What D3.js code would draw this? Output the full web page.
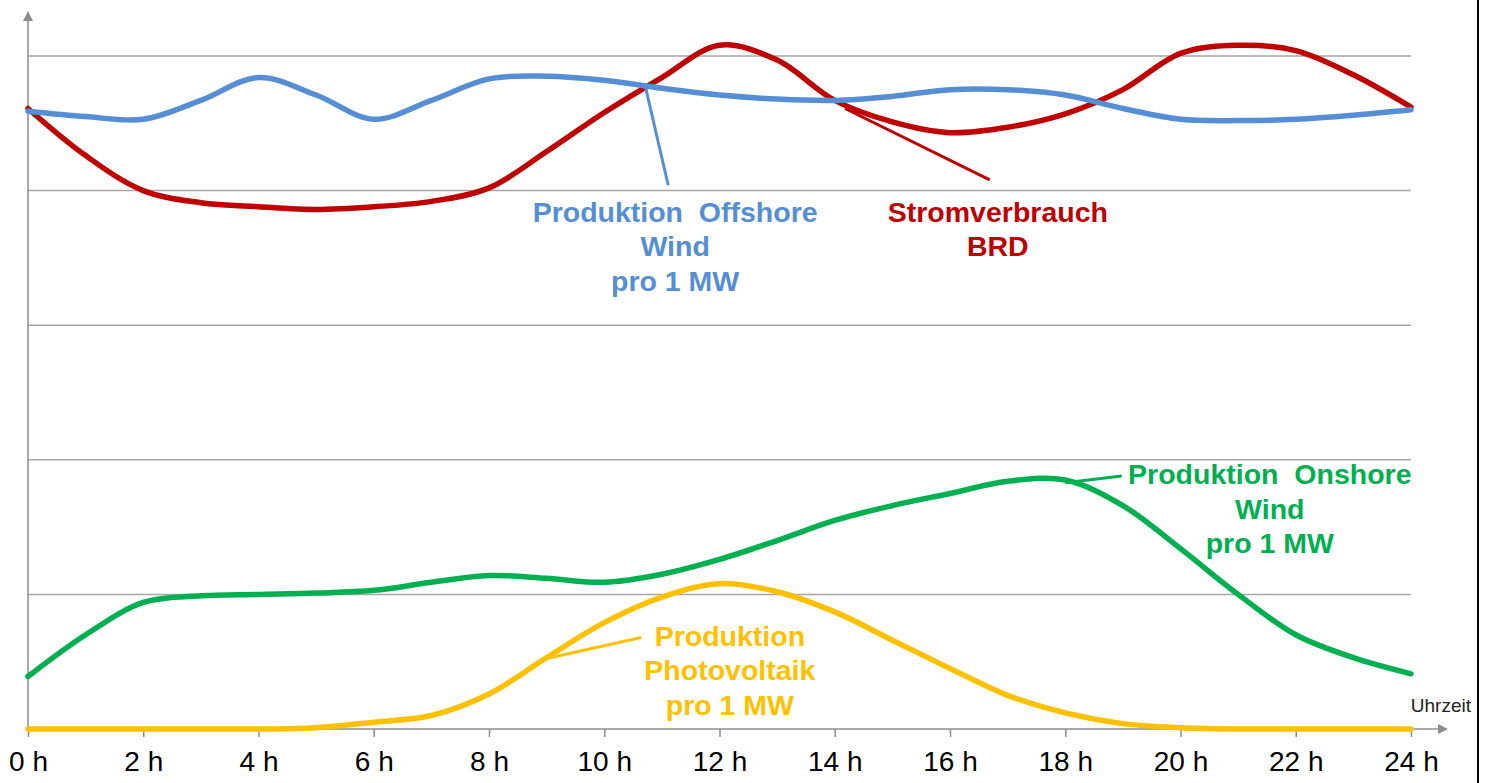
<!DOCTYPE html>
<html>
<head>
<meta charset="utf-8">
<script src="https://cdn.jsdelivr.net/npm/d3@7"></script>
<style>
  html, body { margin: 0; padding: 0; background: #fff; }
  svg { display: block; }
</style>
</head>
<body>
<svg id="chart" width="1486" height="783"></svg>
<script>
// ---- Data (values in relative units, 0..5 grid) ----
const hours = d3.range(0, 25);
const tickHours = [0, 2, 4, 6, 8, 10, 12, 14, 16, 18, 20, 22, 24];
const tickLabels = tickHours.map(h => h + " h");
const gridValues = [1, 2, 3, 4, 5];

const offshoreWind = [4.59, 4.55, 4.53, 4.67, 4.84, 4.71, 4.53, 4.67, 4.83, 4.85, 4.82, 4.76, 4.71,
                      4.68, 4.67, 4.70, 4.75, 4.75, 4.71, 4.61, 4.53, 4.52, 4.53, 4.56, 4.60];
const consumption = [4.61, 4.26, 4.00, 3.91, 3.88, 3.86, 3.88, 3.92, 4.02, 4.29, 4.58, 4.84, 5.08,
                     4.97, 4.67, 4.51, 4.43, 4.47, 4.57, 4.75, 5.02, 5.08, 5.04, 4.86, 4.62];
const onshoreWind = [0.39, 0.70, 0.94, 0.99, 1.00, 1.01, 1.03, 1.09, 1.14, 1.12, 1.09, 1.15, 1.26,
                     1.40, 1.55, 1.66, 1.75, 1.84, 1.85, 1.66, 1.34, 1.00, 0.70, 0.53, 0.41];
const photovoltaic = [0, 0, 0, 0, 0, 0.01, 0.05, 0.10, 0.26, 0.53, 0.79, 0.98, 1.08,
                      1.02, 0.87, 0.66, 0.45, 0.25, 0.12, 0.04, 0.01, 0, 0, 0, 0];

const seriesNames = ["offshore", "consumption", "onshore", "pv"];
const seriesColors = ["#558ED5", "#C00000", "#00B050", "#FFC000"];

// annotation labels: text lines, text anchor (hour, value), leader from/to (hour, value)
const labelLines = [
  ["Produktion  Offshore", "Wind", "pro 1 MW"],
  ["Stromverbrauch", "BRD"],
  ["Produktion  Onshore", "Wind", "pro 1 MW"],
  ["Produktion", "Photovoltaik", "pro 1 MW"]
];
const labelAnchor = [[11.23, 3.77], [16.83, 3.77], [21.55, 1.82], [12.18, 0.62]];
const leaderFrom = [[10.71, 4.78], [14.18, 4.61], [18.0, 1.83], [9.06, 0.53]];
const leaderTo = [[11.11, 4.04], [16.69, 4.08], [18.98, 1.88], [10.64, 0.68]];

// ---- Drawing ----
const svg = d3.select("#chart");
const x = d3.scaleLinear().domain([0, 24]).range([28, 1411]);
const y = d3.scaleLinear().domain([0, 5]).range([729, 56]);

// grid lines
svg.append("g").selectAll("line").data(gridValues).join("line")
  .attr("x1", x(0)).attr("x2", x(24))
  .attr("y1", d => y(d)).attr("y2", d => y(d))
  .attr("stroke", "#A6A6A6").attr("stroke-width", 1.5);

// x axis via d3 axis
const xAxis = d3.axisBottom(x).tickValues(tickHours)
  .tickFormat((d, i) => tickLabels[i]).tickSize(8).tickSizeOuter(0).tickPadding(14);
const gx = svg.append("g").attr("transform", `translate(0,${y(0)})`).call(xAxis);
gx.select(".domain").remove();
gx.selectAll(".tick line").attr("stroke", "#8C8C8C").attr("stroke-width", 1.5);
gx.selectAll(".tick text").attr("fill", "#000").attr("font-family", "Liberation Sans, Arial, sans-serif")
  .attr("font-size", 28).attr("dy", "0.71em");

// axis lines with arrows
const axisColor = "#8C8C8C";
svg.append("line").attr("x1", x(0)).attr("x2", x(24) + 30).attr("y1", y(0)).attr("y2", y(0))
  .attr("stroke", axisColor).attr("stroke-width", 1.5);
svg.append("path")
  .attr("d", `M${x(24) + 37},${y(0)} L${x(24) + 27},${y(0) - 5} L${x(24) + 27},${y(0) + 5} Z`)
  .attr("fill", axisColor);
svg.append("line").attr("x1", x(0)).attr("x2", x(0)).attr("y1", y(0)).attr("y2", y(5) - 38)
  .attr("stroke", axisColor).attr("stroke-width", 1.5);
svg.append("path")
  .attr("d", `M${x(0)},${y(5) - 45} L${x(0) - 5},${y(5) - 35} L${x(0) + 5},${y(5) - 35} Z`)
  .attr("fill", axisColor);

svg.append("text").attr("x", x(24) + 60).attr("y", y(0) - 17)
  .attr("text-anchor", "end").attr("font-family", "Liberation Sans, Arial, sans-serif")
  .attr("font-size", 19).attr("fill", "#222").text("Uhrzeit");

// series
const allSeries = [offshoreWind, consumption, onshoreWind, photovoltaic];
const line = d3.line().x((d, i) => x(hours[i])).y(d => y(d)).curve(d3.curveCatmullRom.alpha(0.5));
const drawOrder = [3, 2, 1, 0];
svg.append("g").selectAll("path").data(drawOrder).join("path")
  .attr("d", k => line(allSeries[k]))
  .attr("fill", "none")
  .attr("stroke", k => seriesColors[k])
  .attr("stroke-width", 5.5)
  .attr("stroke-linejoin", "round").attr("stroke-linecap", "round");

// leader lines
svg.append("g").selectAll("line").data(seriesNames).join("line")
  .attr("x1", (d, i) => x(leaderFrom[i][0])).attr("y1", (d, i) => y(leaderFrom[i][1]))
  .attr("x2", (d, i) => x(leaderTo[i][0])).attr("y2", (d, i) => y(leaderTo[i][1]))
  .attr("stroke", (d, i) => seriesColors[i]).attr("stroke-width", 3);

// labels
seriesNames.forEach((name, i) => {
  const t = svg.append("text")
    .attr("x", x(labelAnchor[i][0])).attr("y", y(labelAnchor[i][1]))
    .attr("text-anchor", "middle")
    .attr("font-family", "Liberation Sans, Arial, sans-serif")
    .attr("font-weight", "bold").attr("font-size", 28.5)
    .attr("fill", seriesColors[i])
    .style("white-space", "pre");
  labelLines[i].forEach((s, j) => {
    t.append("tspan").attr("x", x(labelAnchor[i][0])).attr("dy", j === 0 ? 0 : 34.5).text(s);
  });
});

// right frame border
svg.append("line").attr("x1", 1478).attr("x2", 1478).attr("y1", 0).attr("y2", 783)
  .attr("stroke", "#000").attr("stroke-width", 2);
</script>
</body>
</html>
